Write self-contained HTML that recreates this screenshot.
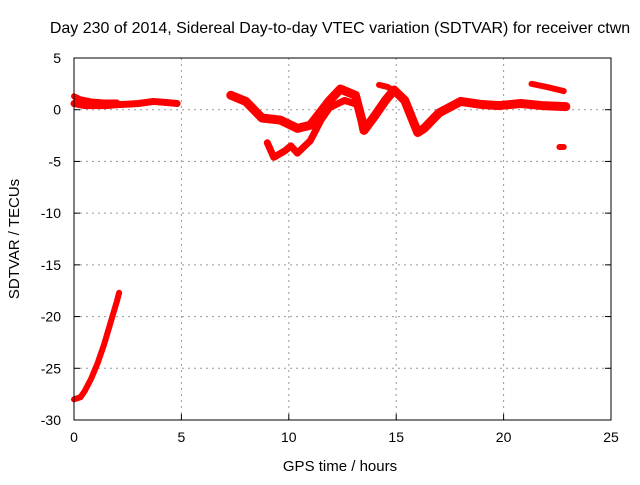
<!DOCTYPE html>
<html><head><meta charset="utf-8"><style>
body{margin:0;background:#fff;font-family:"Liberation Sans",sans-serif}
svg text{font-family:"Liberation Sans",sans-serif;font-size:14px;fill:#000}
</style></head><body>
<svg width="640" height="480" id="c">
<text x="340" y="33" text-anchor="middle" style="font-size:16px">Day 230 of 2014, Sidereal Day-to-day VTEC variation (SDTVAR) for receiver ctwn</text>
<text x="340" y="471" text-anchor="middle" style="font-size:15px">GPS time / hours</text>
<text transform="translate(19,239) rotate(-90)" text-anchor="middle" style="font-size:15px">SDTVAR / TECUs</text>
<g id="grid"></g><g id="ticks"></g><g id="marks"></g>
<rect x="74" y="58" width="537" height="362" fill="none" stroke="#000"/>
</svg>
<script>
const xTicks=[0,5,10,15,20,25];
const yTicks=[5,0,-5,-10,-15,-20,-25,-30];
const arcA_t=[0,0.5,1,1.5,2.1,2.2,3,3.7,4.3,4.8];
const arcA_v=[0.6,0.4,0.4,0.4,0.5,0.5,0.6,0.8,0.7,0.6];
const arcA2_t=[0,0.3,0.8,1.4,2.0];
const arcA2_v=[1.3,1.0,0.8,0.7,0.7];
const arcB_t=[0,0.3,0.5,0.8,1.1,1.4,1.7,2.0,2.1];
const arcB_v=[-28,-27.8,-27.2,-26,-24.5,-22.7,-20.6,-18.5,-17.7];
const arcC_t=[7.3,8,8.75,9.6,10.4,11,11.9,12.4,13.1,13.4,13.5,14,14.5,14.9,15.4,16,16.3,17,18,19,19.8,20.8,21.8,22.9];
const arcC_v=[1.4,0.8,-0.8,-1,-1.8,-1.5,0.9,2.0,1.4,-1,-2,-0.6,0.9,1.9,0.9,-2.2,-1.8,-0.3,0.8,0.5,0.4,0.6,0.4,0.3];
const arcD_t=[9.0,9.3,9.8,10.1,10.4,11,11.5,11.9,12.6,13.2];
const arcD_v=[-3.2,-4.6,-4,-3.5,-4.2,-3,-1,0.2,0.9,0.5];
const arcE_t=[14.2,14.6,14.9];
const arcE_v=[2.4,2.2,1.8];
const arcF_t=[21.3,22,22.8];
const arcF_v=[2.5,2.2,1.8];
const dotG_t=[22.6,22.8];
const dotG_v=[-3.6,-3.6];
const X=t=>74+t*537/25, Y=v=>58+(5-v)*362/35;
const NS="http://www.w3.org/2000/svg";
const g=document.getElementById('grid'),tk=document.getElementById('ticks'),m=document.getElementById('marks');
function el(n,a,p){const e=document.createElementNS(NS,n);for(const k in a)e.setAttribute(k,a[k]);p.appendChild(e);return e;}
xTicks.forEach(t=>{
 if(t>0&&t<25){const l=el('line',{x1:X(t),x2:X(t),y1:58,y2:420,stroke:'#999','stroke-dasharray':'2,4'},g);
 
 }
 el('line',{x1:X(t),x2:X(t),y1:420,y2:414,stroke:'#000'},tk);
 const tx=el('text',{x:X(t),y:442,'text-anchor':'middle'},tk);tx.textContent=t;
 
 
});
yTicks.forEach(v=>{
 if(v<5&&v>-30){const l=el('line',{x1:74,x2:611,y1:Y(v),y2:Y(v),stroke:'#999','stroke-dasharray':'2,4'},g);
 
 }
 el('line',{x1:74,x2:80,y1:Y(v),y2:Y(v),stroke:'#000'},tk);
 el('line',{x1:605,x2:611,y1:Y(v),y2:Y(v),stroke:'#000'},tk);
 const tx=el('text',{x:61,y:Y(v)+5,'text-anchor':'end'},tk);tx.textContent=v;
 
 
});
const series=[[arcA_t,arcA_v,7],[arcA2_t,arcA2_v,6],[arcB_t,arcB_v,6],[arcC_t,arcC_v,9],[arcD_t,arcD_v,7],[arcE_t,arcE_v,6],[arcF_t,arcF_v,6],[dotG_t,dotG_v,6]];
series.forEach(([ts,vs,w],i)=>{
 const p=el('polyline',{points:ts.map((t,j)=>X(t)+','+Y(vs[j])).join(' '),fill:'none',stroke:'#f00','stroke-width':w,'stroke-linejoin':'round','stroke-linecap':'round'},m);
 
 
});
</script>
</body></html>
